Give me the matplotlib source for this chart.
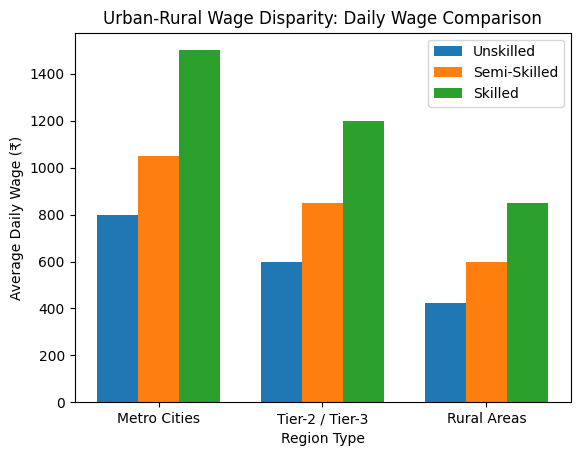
import numpy as np
import matplotlib
matplotlib.use("Agg")
import matplotlib.pyplot as plt

regions = ["Metro Cities", "Tier-2 / Tier-3", "Rural Areas"]
unskilled = [800, 600, 425]
semi_skilled = [1050, 850, 600]
skilled = [1500, 1200, 850]

fig = plt.figure(figsize=(5.8, 4.55), dpi=100)
ax = fig.add_axes([74.5 / 580, 52.7 / 455, 496 / 580, 369.6 / 455])
x = np.arange(len(regions))
width = 0.25

ax.bar(x - width, unskilled, width, label="Unskilled", color="#1f77b4")
ax.bar(x, semi_skilled, width, label="Semi-Skilled", color="#ff7f0e")
ax.bar(x + width, skilled, width, label="Skilled", color="#2ca02c")

ax.set_title("Urban-Rural Wage Disparity: Daily Wage Comparison")
ax.set_xlabel("Region Type")
ax.set_ylabel("Average Daily Wage (₹)")
ax.set_xticks(x)
ax.set_xticklabels(regions)
ax.legend(loc="upper right")

plt.savefig("out.png", dpi=100)
